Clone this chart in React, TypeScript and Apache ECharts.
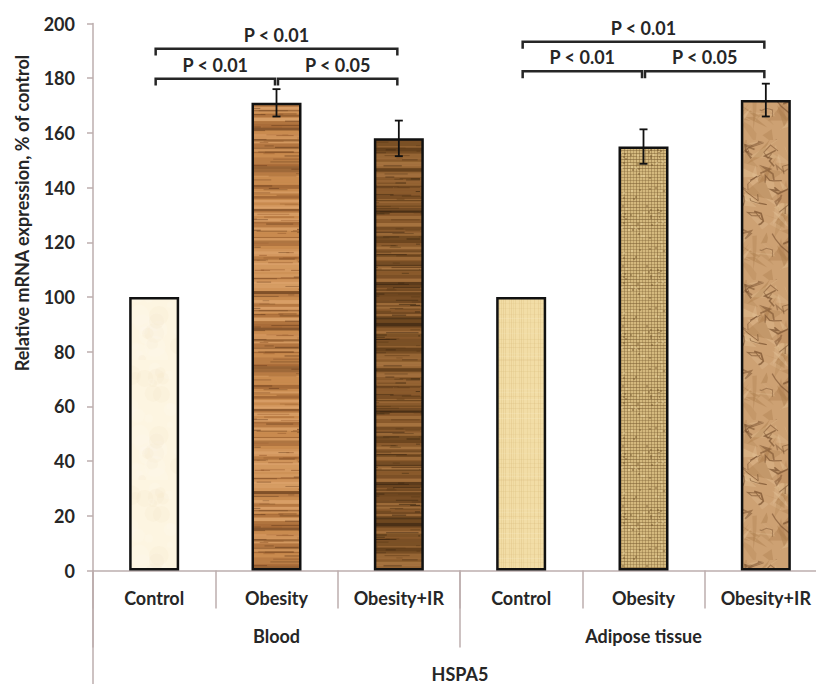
import React, { useEffect, useRef } from 'react';
import * as echarts from 'echarts';

const categories = ['Control', 'Obesity', 'Obesity+IR', 'Control', 'Obesity', 'Obesity+IR'];
const groups = ['Blood', 'Adipose tissue'];
const geneLabel = ['HSPA5'];
const values = [100, 171, 158, 100, 155, 172];
const errors = [0, 5, 6.5, 0, 6.3, 6];
const bracketFrom = [0, 0, 1, 3, 3, 4];
const bracketTo = [2, 1, 2, 5, 4, 5];
const bracketLevel = [190.8, 179.8, 179.8, 193.3, 182.5, 182.5];
const bracketText = ['P < 0.01', 'P < 0.01', 'P < 0.05', 'P < 0.01', 'P < 0.01', 'P < 0.05'];
const yTitle = 'Relative mRNA expression, % of control';

const AXIS_COLOR = '#bcaeae';
const TEXT_COLOR = '#262626';
const FONT = 'Lato';

function rng(seed: number) {
  let a = seed;
  return () => {
    a |= 0;
    a = (a + 0x6d2b79f5) | 0;
    let t = Math.imul(a ^ (a >>> 15), 1 | a);
    t = (t + Math.imul(t ^ (t >>> 7), 61 | t)) ^ t;
    return ((t ^ (t >>> 14)) >>> 0) / 4294967296;
  };
}

function makePattern(w: number, h: number, draw: (ctx: CanvasRenderingContext2D, w: number, h: number) => void) {
  const c = document.createElement('canvas');
  c.width = w;
  c.height = h;
  const ctx = c.getContext('2d') as CanvasRenderingContext2D;
  draw(ctx, w, h);
  return { image: c.toDataURL(), imageWidth: w, imageHeight: h, repeat: 'repeat' };
}

function wood(base: string, dark: string, light: string, deep: string, seed: number) {
  return (ctx: CanvasRenderingContext2D, w: number, h: number) => {
    const r = rng(seed);
    ctx.fillStyle = base;
    ctx.fillRect(0, 0, w, h);
    let y = 0;
    while (y < h) {
      const th = 1 + r() * 3;
      const t = r();
      ctx.fillStyle = t < 0.3 ? dark : t < 0.65 ? light : t < 0.75 ? deep : base;
      ctx.globalAlpha = 0.25 + r() * 0.55;
      ctx.fillRect(0, y, w, th);
      y += th;
    }
    for (let i = 0; i < 90; i++) {
      ctx.globalAlpha = 0.35 + r() * 0.4;
      ctx.fillStyle = r() < 0.5 ? deep : dark;
      ctx.fillRect(r() * w, r() * h, 6 + r() * 30, 1);
    }
    ctx.globalAlpha = 1;
  };
}

function buildPatterns() {
  const cream = makePattern(60, 120, (ctx, w, h) => {
    const r = rng(3);
    ctx.fillStyle = '#fdf5e1';
    ctx.fillRect(0, 0, w, h);
    for (let i = 0; i < 40; i++) {
      ctx.globalAlpha = 0.2;
      ctx.fillStyle = r() < 0.5 ? '#f6e8c8' : '#fffbf0';
      ctx.beginPath();
      ctx.arc(r() * w, r() * h, 3 + r() * 8, 0, Math.PI * 2);
      ctx.fill();
    }
    ctx.globalAlpha = 1;
  });
  const lightWood = makePattern(60, 200, wood('#c98b4f', '#9a5f30', '#e0a872', '#6e4220', 11));
  const darkWood = makePattern(60, 200, wood('#8a5a2c', '#5b3a18', '#b07c46', '#3a2610', 23));
  const papyrus = makePattern(60, 120, (ctx, w, h) => {
    const r = rng(5);
    ctx.fillStyle = '#f2dda6';
    ctx.fillRect(0, 0, w, h);
    for (let x = 0; x < w; x += 2 + Math.floor(r() * 3)) {
      ctx.globalAlpha = 0.15 + r() * 0.2;
      ctx.fillStyle = '#d7b878';
      ctx.fillRect(x, 0, 1, h);
    }
    for (let y = 0; y < h; y += 3 + Math.floor(r() * 4)) {
      ctx.globalAlpha = 0.12 + r() * 0.15;
      ctx.fillStyle = r() < 0.5 ? '#d9bb7c' : '#fbeecb';
      ctx.fillRect(0, y, w, 1);
    }
    ctx.globalAlpha = 1;
  });
  const burlap = makePattern(60, 60, (ctx, w, h) => {
    const r = rng(7);
    ctx.fillStyle = '#d4b97e';
    ctx.fillRect(0, 0, w, h);
    for (let x = 0; x < w; x += 3) {
      ctx.globalAlpha = 0.35 + r() * 0.3;
      ctx.fillStyle = '#8f7040';
      ctx.fillRect(x, 0, 1, h);
    }
    for (let y = 0; y < h; y += 3) {
      ctx.globalAlpha = 0.3 + r() * 0.3;
      ctx.fillStyle = '#7e6236';
      ctx.fillRect(0, y, w, 1);
    }
    for (let i = 0; i < 60; i++) {
      ctx.globalAlpha = 0.4;
      ctx.fillStyle = r() < 0.5 ? '#efdcaa' : '#6d5028';
      ctx.fillRect(Math.floor(r() * w), Math.floor(r() * h), 2, 2);
    }
    ctx.globalAlpha = 1;
  });
  const crumpled = makePattern(100, 140, (ctx, w, h) => {
    const r = rng(13);
    ctx.fillStyle = '#cda173';
    ctx.fillRect(0, 0, w, h);
    // soft facets
    for (let i = 0; i < 70; i++) {
      const light = r() < 0.55;
      ctx.globalAlpha = 0.22 + r() * 0.2;
      ctx.fillStyle = light ? '#e8c99e' : '#a97a4a';
      ctx.beginPath();
      const cx = r() * w, cy = r() * h;
      ctx.moveTo(cx, cy);
      for (let k = 0; k < 3; k++) ctx.lineTo(cx + (r() - 0.5) * 40, cy + (r() - 0.5) * 40);
      ctx.closePath();
      ctx.fill();
    }
    // creases
    for (let i = 0; i < 30; i++) {
      ctx.globalAlpha = 0.45 + r() * 0.3;
      ctx.strokeStyle = '#7a5230';
      ctx.lineWidth = 0.8 + r() * 1.0;
      ctx.beginPath();
      let x = r() * w, y = r() * h;
      ctx.moveTo(x, y);
      for (let k = 0; k < 4; k++) {
        x += (r() - 0.5) * 24;
        y += (r() - 0.5) * 16;
        ctx.lineTo(x, y);
      }
      ctx.stroke();
    }
    ctx.globalAlpha = 1;
  });
  return [cream, lightWood, darkWood, papyrus, burlap, crumpled];
}

export default function App() {
  const ref = useRef<HTMLDivElement>(null);
  useEffect(() => {
    if (!ref.current) return;
    const chart = echarts.init(ref.current, null, { renderer: 'svg' });
    const patterns = buildPatterns();
    const labelStyle = { fontFamily: FONT, fontWeight: 'bold' as const, fontSize: 18, color: TEXT_COLOR };
    const axisLineStyle = { color: AXIS_COLOR, width: 1.5 };

    const option: any = {
      animation: false,
      backgroundColor: '#ffffff',
      grid: { left: 93, top: 23.5, width: 734, height: 547, outerBoundsMode: 'none' },
      xAxis: [
        {
          type: 'category',
          data: categories,
          position: 'bottom',
          axisLine: { show: true, lineStyle: axisLineStyle },
          axisTick: { show: true, length: 38, interval: 0, lineStyle: axisLineStyle },
          axisLabel: { ...labelStyle, margin: 18, interval: 0 },
        },
        {
          type: 'category',
          data: groups,
          position: 'bottom',
          axisLine: { show: false },
          axisTick: { show: true, length: 77, interval: 0, lineStyle: axisLineStyle },
          axisLabel: { ...labelStyle, margin: 56, interval: 0 },
        },
        {
          type: 'category',
          data: geneLabel,
          position: 'bottom',
          axisLine: { show: false },
          axisTick: { show: true, length: 125, interval: 0, lineStyle: axisLineStyle },
          axisLabel: { ...labelStyle, margin: 94, interval: 0 },
        },
      ],
      yAxis: {
        type: 'value',
        min: 0,
        max: 200,
        interval: 20,
        axisLine: { show: true, lineStyle: axisLineStyle },
        axisTick: { show: true, length: 6, lineStyle: axisLineStyle },
        splitLine: { show: false },
        axisLabel: { ...labelStyle, margin: 18 },
      },
      series: [
        {
          type: 'bar',
          xAxisIndex: 0,
          barWidth: 50,
          data: values.map((v, i) => ({
            value: v,
            itemStyle: { color: patterns[i], borderColor: '#111111', borderWidth: 2.5 },
          })),
        },
        {
          type: 'custom',
          xAxisIndex: 0,
          encode: { x: 0, y: 1 },
          data: values.map((v, i) => [i, v, errors[i]]),
          renderItem: (params: any, api: any) => {
            const e = api.value(2);
            if (!e) return null;
            const idx = api.value(0);
            const v = api.value(1);
            const top = api.coord([idx, v + e]);
            const bot = api.coord([idx, v - e]);
            const x = top[0];
            const st = { stroke: '#111111', lineWidth: 1.8 };
            return {
              type: 'group',
              children: [
                { type: 'line', shape: { x1: x, y1: top[1], x2: x, y2: bot[1] }, style: st },
                { type: 'line', shape: { x1: x - 4, y1: top[1], x2: x + 4, y2: top[1] }, style: st },
                { type: 'line', shape: { x1: x - 4, y1: bot[1], x2: x + 4, y2: bot[1] }, style: st },
              ],
            };
          },
          z: 5,
        },
        {
          type: 'custom',
          xAxisIndex: 0,
          encode: { x: [0, 1], y: 2 },
          data: bracketFrom.map((f, i) => [f, bracketTo[i], bracketLevel[i]]),
          renderItem: (params: any, api: any) => {
            const i = params.dataIndex;
            const lvl = api.value(2);
            const p1 = api.coord([api.value(0), lvl]);
            const p2 = api.coord([api.value(1), lvl]);
            const drop = api.size([0, 2.5])[1];
            const x1 = p1[0] + 1.5;
            const x2 = p2[0] - 1.5;
            const y = p1[1];
            return {
              type: 'group',
              children: [
                {
                  type: 'polyline',
                  shape: { points: [[x1, y + drop], [x1, y], [x2, y], [x2, y + drop]] },
                  style: { stroke: '#262626', lineWidth: 2.5, fill: 'none' },
                },
                {
                  type: 'text',
                  style: {
                    text: bracketText[i],
                    x: (x1 + x2) / 2,
                    y: y - 14,
                    align: 'center',
                    verticalAlign: 'middle',
                    font: `bold 18px ${FONT}`,
                    fill: TEXT_COLOR,
                  },
                },
              ],
            };
          },
          z: 6,
        },
      ],
      graphic: [
        {
          type: 'text',
          x: 22,
          y: 213,
          rotation: Math.PI / 2,
          style: {
            text: yTitle,
            font: `bold 18px ${FONT}`,
            fill: TEXT_COLOR,
            align: 'center',
            verticalAlign: 'middle',
          },
        },
      ],
    };
    chart.setOption(option);
    return () => chart.dispose();
  }, []);
  return <div ref={ref} style={{ position: 'fixed', left: 0, top: 0, width: 816, height: 684 }} />;
}
